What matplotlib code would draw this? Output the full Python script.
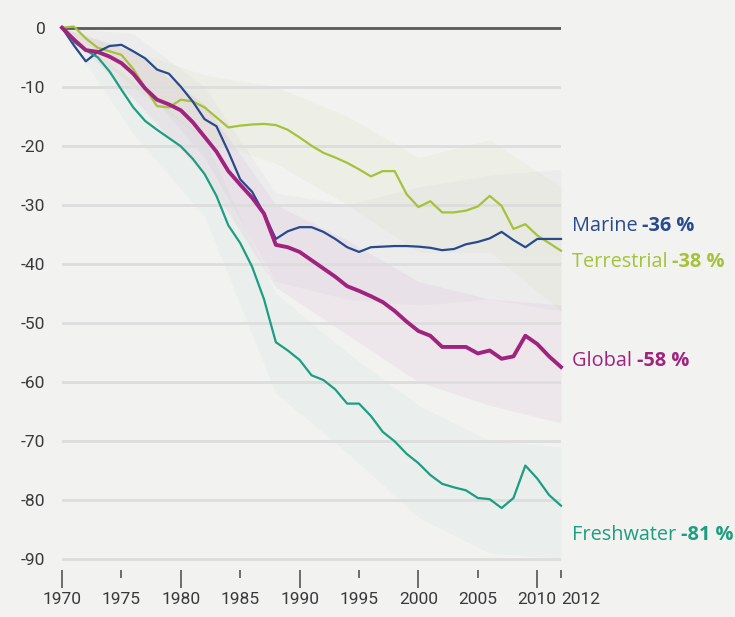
import numpy as np
import matplotlib
matplotlib.use("Agg")
import matplotlib.pyplot as plt
from matplotlib.ticker import FixedLocator

plt.rcParams['font.family'] = ['Open Sans', 'DejaVu Sans']

# yearly index values (% change since 1970)
years = list(range(1970, 2013))

marine = [0, -3.0, -5.7, -4.1, -3.1, -2.9, -4.0, -5.2, -7.1, -7.8,
          -10.0, -12.5, -15.5, -16.7, -21.0, -25.7, -27.8, -31.5, -35.8, -34.5,
          -33.8, -33.8, -34.6, -35.8, -37.2, -38.0, -37.2, -37.1, -37.0, -37.0,
          -37.1, -37.3, -37.7, -37.5, -36.7, -36.3, -35.7, -34.6, -36.0, -37.2,
          -35.8, -35.8, -35.8]

terrestrial = [0, 0.2, -1.8, -3.4, -4.0, -4.6, -7.0, -10.2, -13.3, -13.5,
               -12.2, -12.5, -13.5, -15.2, -16.9, -16.6, -16.4, -16.3, -16.5, -17.3,
               -18.6, -20.0, -21.2, -22.0, -22.9, -24.0, -25.2, -24.3, -24.3, -28.2,
               -30.4, -29.4, -31.3, -31.3, -31.0, -30.3, -28.5, -30.2, -34.1, -33.3,
               -35.2, -36.5, -37.8]

global_ = [0, -2.0, -3.8, -4.1, -4.9, -6.0, -7.8, -10.3, -12.2, -13.0,
           -14.0, -16.0, -18.5, -21.0, -24.3, -26.6, -28.8, -31.5, -36.8, -37.2,
           -38.0, -39.4, -40.8, -42.2, -43.8, -44.6, -45.5, -46.5, -48.0, -49.8,
           -51.4, -52.2, -54.1, -54.1, -54.1, -55.2, -54.7, -56.1, -55.7, -52.2,
           -53.6, -55.7, -57.5]

freshwater = [0, -2.4, -3.8, -5.0, -7.4, -10.5, -13.5, -15.8, -17.3, -18.7,
              -20.1, -22.2, -24.8, -28.5, -33.5, -36.5, -40.5, -46.0, -53.3, -54.7,
              -56.3, -58.9, -59.7, -61.3, -63.7, -63.7, -65.8, -68.5, -70.1, -72.2,
              -73.8, -75.8, -77.3, -77.9, -78.4, -79.7, -79.9, -81.4, -79.7, -74.2,
              -76.4, -79.2, -81.0]

# rough confidence bands (lower, upper)
band_years = [1970, 1976, 1982, 1988, 1994, 2000, 2006, 2012]
global_lo = [0, -12, -25, -44, -52, -60, -64, -67]
global_hi = [0, -4, -13, -30, -36, -43, -46, -47]
fresh_lo = [0, -18, -32, -62, -72, -83, -89, -90]
fresh_hi = [0, -9, -19, -45, -55, -64, -70, -71]
terr_lo = [0, -10, -19, -23, -30, -38, -38, -48]
terr_hi = [0, -4, -8, -10, -15, -22, -19, -27]
mar_lo = [0, -8, -22, -43, -46, -47, -46, -48]
mar_hi = [0, -1, -10, -28, -30, -27, -25, -24]

names = ['Marine', 'Terrestrial', 'Global', 'Freshwater']
final = ['-36 %', '-38 %', '-58 %', '-81 %']
label_y = [-33.6, -39.7, -56.5, -86.0]

c_mar = '#284a8c'
c_terr = '#a6c13a'
c_glob = '#a0237f'
c_fresh = '#1d9e80'
colors = [c_mar, c_terr, c_glob, c_fresh]

bg = '#f2f2f1'
fig = plt.figure(figsize=(7.35, 6.17), dpi=100, facecolor=bg)
ax = fig.add_axes([62 / 735, 47 / 617, 499 / 735, 560 / 617])
ax.set_facecolor(bg)
ax.set_xlim(1970, 2012)
ax.set_ylim(-91.9, 3)

# bands (very faint in the original)
ax.fill_between(band_years, terr_lo, terr_hi, color=c_terr, alpha=0.06, lw=0)
ax.fill_between(band_years, mar_lo, mar_hi, color='#7d8aa8', alpha=0.05, lw=0)
ax.fill_between(band_years, fresh_lo, fresh_hi, color=c_fresh, alpha=0.035, lw=0)
ax.fill_between(band_years, global_lo, global_hi, color=c_glob, alpha=0.05, lw=0)

# grid
for v in range(-10, -100, -10):
    ax.axhline(v, color='#dddddd', lw=2, zorder=1)
ax.axhline(0, color='#5a5a5a', lw=2, zorder=1)

ax.plot(years, terrestrial, color=c_terr, lw=1.6, zorder=3, clip_on=False)
ax.plot(years, marine, color=c_mar, lw=1.6, zorder=3, clip_on=False)
ax.plot(years, freshwater, color=c_fresh, lw=1.6, zorder=3, clip_on=False)
ax.plot(years, global_, color=c_glob, lw=2.8, zorder=4, clip_on=False)

for s in ax.spines.values():
    s.set_visible(False)

tick_font = ['Roboto', 'DejaVu Sans']
ax.set_yticks(range(0, -100, -10))
ax.set_yticklabels([str(v) for v in range(0, -100, -10)], family=tick_font)
ax.tick_params(axis='y', length=0, pad=12, labelsize=12.5, labelcolor='#3a3a3a')

ax.xaxis.set_major_locator(FixedLocator([1970, 1980, 1990, 2000, 2010]))
ax.xaxis.set_minor_locator(FixedLocator([1975, 1985, 1995, 2005, 2012]))
ax.set_xticklabels(['1970', '1980', '1990', '2000', '2010'], family=tick_font)
ax.set_xticklabels(['1975', '1985', '1995', '2005', '2012'], minor=True, family=tick_font)
ax.tick_params(axis='x', which='major', length=13, width=1.2, color='#555555',
               pad=3, labelsize=12.5, labelcolor='#3a3a3a')
ax.tick_params(axis='x', which='minor', length=6, width=1.2, color='#555555',
               pad=10, labelsize=12.5, labelcolor='#3a3a3a')
# the 2012 label sits to the right of its tick, as in the original
ax.xaxis.get_minorticklabels()[-1].set_horizontalalignment('left')
ax.xaxis.get_minorticklabels()[-1].set_x(2011.9)
for lab in ax.xaxis.get_minorticklabels():
    if lab.get_text() == '2012':
        lab.set_horizontalalignment('left')

# end labels: name regular + value bold
fig.canvas.draw()
r = fig.canvas.get_renderer()
for n, f, yv, c in zip(names, final, label_y, colors):
    t = ax.text(2012.9, yv, n + ' ', color=c, fontsize=14.3, va='center', ha='left')
    bb = t.get_window_extent(r)
    xd = ax.transData.inverted().transform((bb.x1, 0))[0]
    ax.text(xd, yv, f, color=c, fontsize=14.3, fontweight='bold', va='center', ha='left')

fig.savefig('out.png', dpi=100, facecolor=bg)
